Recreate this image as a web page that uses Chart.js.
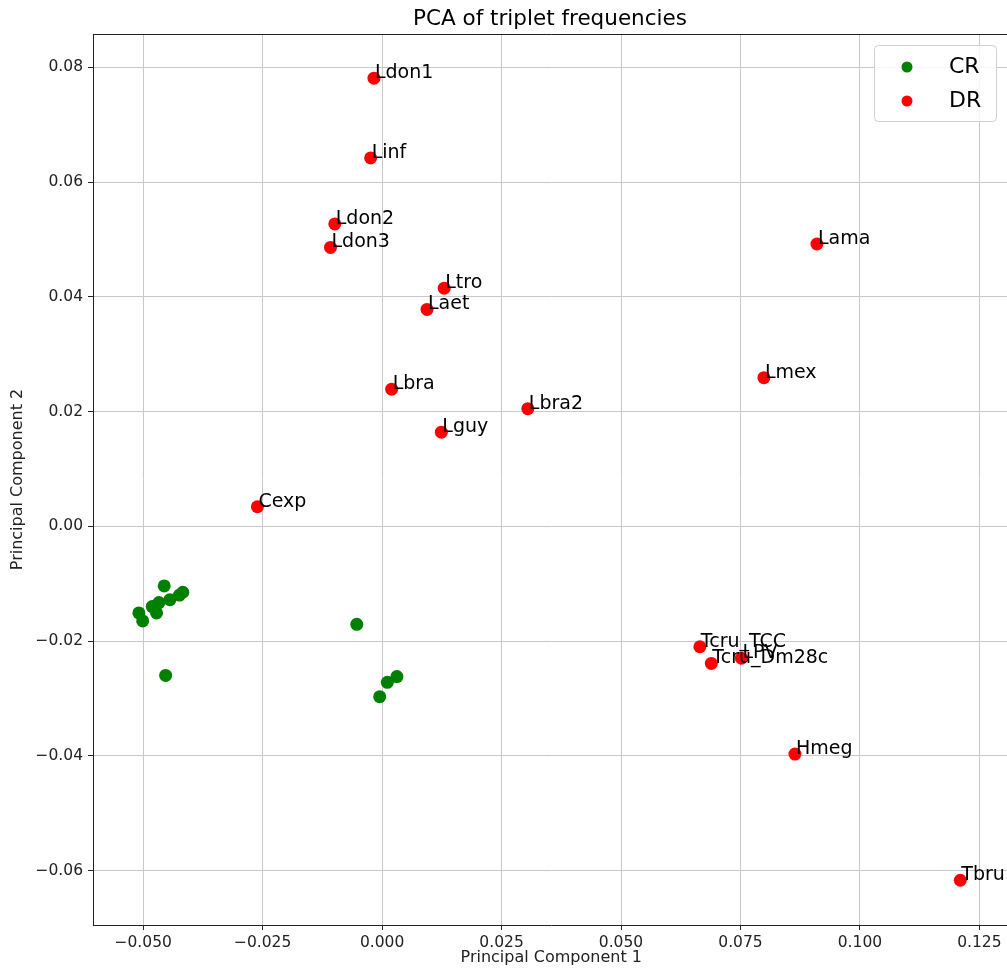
<!DOCTYPE html>
<html>
<head>
<meta charset="utf-8">
<script src="https://cdn.jsdelivr.net/npm/chart.js@4.4.1/dist/chart.umd.min.js"></script>
<style>
  html, body { margin: 0; padding: 0; background: #fff; overflow: hidden; }
  #wrap { width: 1016px; height: 971px; }
</style>
</head>
<body>
<div id="wrap"><canvas id="pcaChart"></canvas></div>
<script>
// CR group (green)
const crX = [-0.0456, -0.0417, -0.0424, -0.0444, -0.0467, -0.0481, -0.0472, -0.0509, -0.0501, -0.0453,
             -0.0053, 0.0031, 0.0011, -0.0005];
const crY = [-0.0104, -0.0115, -0.0120, -0.0128, -0.0133, -0.0140, -0.0151, -0.0151, -0.0165, -0.0260,
             -0.0171, -0.0262, -0.0272, -0.0297];

// DR group (red) with names
const drNames = ['Ldon1', 'Linf', 'Ldon2', 'Ldon3', 'Ltro', 'Laet', 'Lbra', 'Lbra2', 'Lguy', 'Cexp',
                 'Lama', 'Lmex', 'Tcru_TCC', 'Tcru_Dm28c', 'LPV', 'Hmeg', 'Tbru'];
const drX = [-0.0017, -0.0024, -0.0099, -0.0108, 0.0130, 0.0094, 0.0020, 0.0305, 0.0124, -0.0261,
             0.0910, 0.0799, 0.0665, 0.0689, 0.0752, 0.0864, 0.1210];
const drY = [0.0781, 0.0642, 0.0527, 0.0486, 0.0415, 0.0378, 0.0239, 0.0205, 0.0164, 0.0034,
             0.0492, 0.0259, -0.0210, -0.0239, -0.0230, -0.0397, -0.0617];

const xTicks = [-0.050, -0.025, 0.000, 0.025, 0.050, 0.075, 0.100, 0.125];
const yTicks = [-0.06, -0.04, -0.02, 0.00, 0.02, 0.04, 0.06, 0.08];

const fontFam = '"DejaVu Sans", sans-serif';
const minus = v => (v < 0 ? '\u2212' : '');

// labels next to the red points, legend box, title, top spine
const extras = {
    id: 'extras',
    afterDatasetsDraw(chart) {
        const c = chart.ctx;
        const area = chart.chartArea;
        const meta = chart.getDatasetMeta(1);
        c.save();
        c.font = '19px ' + fontFam;
        c.fillStyle = '#000';
        c.textAlign = 'left';
        c.textBaseline = 'alphabetic';
        meta.data.forEach((pt, i) => {
            c.fillText(drNames[i], pt.x + 1, pt.y);
        });

        // top spine
        c.strokeStyle = '#222';
        c.lineWidth = 1;
        c.beginPath();
        c.moveTo(area.left, area.top + 0.5);
        c.lineTo(area.right, area.top + 0.5);
        c.stroke();

        // title
        c.font = '21.5px ' + fontFam;
        c.textAlign = 'center';
        c.textBaseline = 'middle';
        c.fillText('PCA of triplet frequencies', 550, 19);

        // legend
        const bx = 874, by = 45, bw = 122, bh = 76;
        c.fillStyle = 'rgba(255,255,255,0.85)';
        c.strokeStyle = '#d0d0d0';
        c.beginPath();
        c.roundRect(bx + 0.5, by + 0.5, bw, bh, 4);
        c.fill();
        c.stroke();
        const items = [['CR', 'green', 67], ['DR', 'red', 101]];
        c.font = '22px ' + fontFam;
        c.textAlign = 'left';
        items.forEach(it => {
            c.fillStyle = it[1];
            c.beginPath();
            c.arc(907, it[2], 5.5, 0, Math.PI * 2);
            c.fill();
            c.fillStyle = '#000';
            c.fillText(it[0], 949, it[2]);
        });
        c.restore();
    }
};

new Chart(document.getElementById('pcaChart'), {
    type: 'scatter',
    data: {
        datasets: [{
            label: 'CR',
            data: crX.map((x, i) => ({ x: x, y: crY[i] })),
            backgroundColor: 'green',
            borderWidth: 0,
            pointRadius: 6.5
        },
        {
            label: 'DR',
            data: drX.map((x, i) => ({ x: x, y: drY[i] })),
            backgroundColor: 'red',
            borderWidth: 0,
            pointRadius: 6.5
        }]
    },
    options: {
        responsive: true,
        maintainAspectRatio: false,
        animation: false,
        layout: { padding: { top: 34, right: 0, left: 0, bottom: 0 } },
        plugins: {
            legend: { display: false },
            title: { display: false },
            tooltip: { enabled: false }
        },
        scales: {
            x: {
                type: 'linear',
                min: -0.0605,
                max: 0.1313,
                afterFit(scale) { scale.height = 46; scale.paddingRight = 0; scale.paddingLeft = 0; },
                afterBuildTicks(scale) { scale.ticks = xTicks.map(v => ({ value: v })); },
                grid: { color: '#c8c8c8', tickColor: '#222', tickLength: 5 },
                border: { color: '#222' },
                ticks: {
                    padding: 4,
                    color: '#222',
                    font: { family: fontFam, size: 15.5 },
                    callback: v => minus(v) + Math.abs(v).toFixed(3)
                },
                title: {
                    display: true,
                    text: 'Principal Component 1',
                    color: '#222',
                    font: { family: fontFam, size: 16 },
                    padding: { top: 4, bottom: 4 }
                }
            },
            y: {
                type: 'linear',
                min: -0.0695,
                max: 0.0858,
                afterFit(scale) { scale.width = 93; },
                afterBuildTicks(scale) { scale.ticks = yTicks.map(v => ({ value: v })); },
                grid: { color: '#c8c8c8', tickColor: '#222', tickLength: 5 },
                border: { color: '#222' },
                ticks: {
                    padding: 5,
                    color: '#222',
                    font: { family: fontFam, size: 15.5 },
                    callback: v => minus(v) + Math.abs(v).toFixed(2)
                },
                title: {
                    display: true,
                    text: 'Principal Component 2',
                    color: '#222',
                    font: { family: fontFam, size: 16 },
                    padding: { top: 8, bottom: 4 }
                }
            }
        }
    },
    plugins: [extras]
});
</script>
</body>
</html>
